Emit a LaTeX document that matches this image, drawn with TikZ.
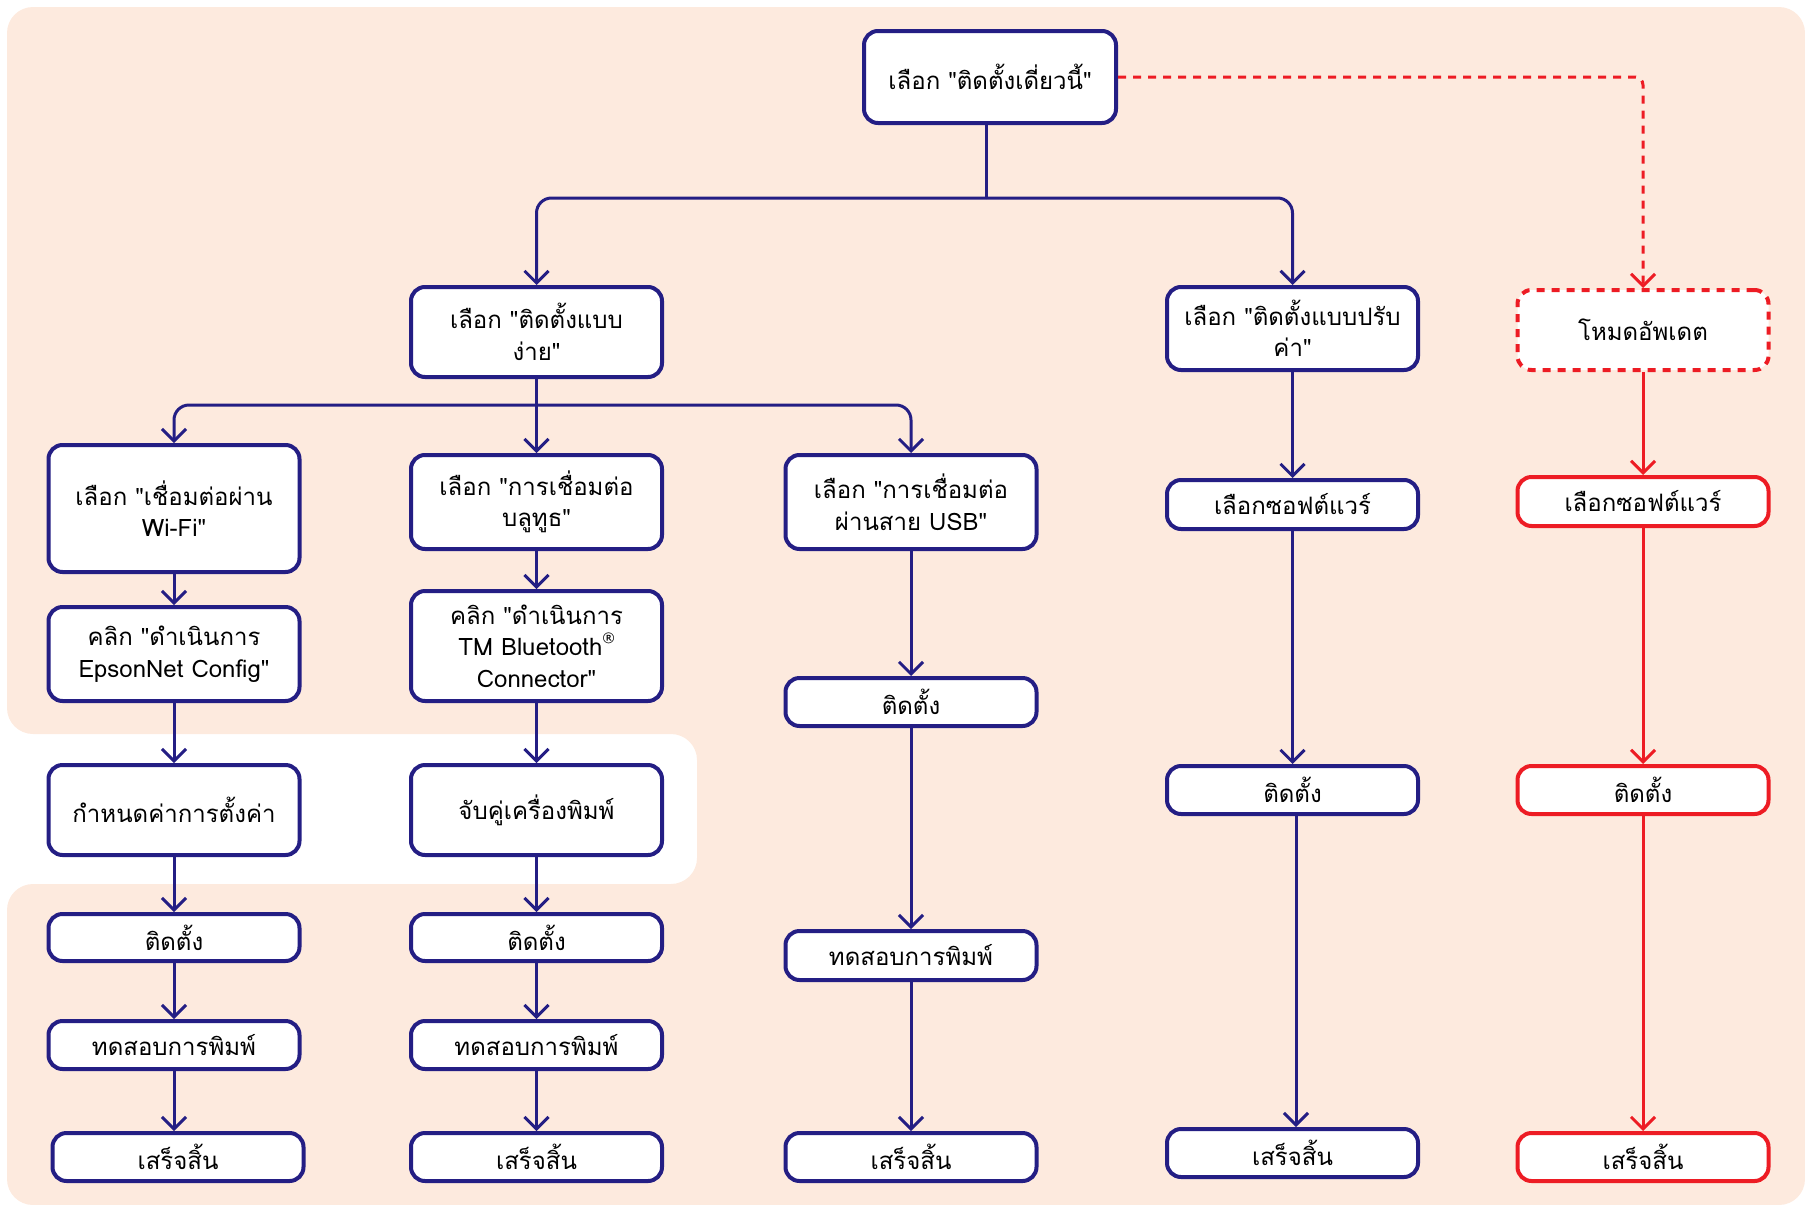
\documentclass[tikz,border=0pt]{standalone}
\usepackage{fontspec}
\newfontfamily\thaifont[Script=Thai]{Loma}
\usetikzlibrary{arrows.meta}
\definecolor{navy}{RGB}{36,30,132}
\definecolor{redc}{RGB}{237,28,36}
\definecolor{peach}{RGB}{253,234,222}
\tikzset{
  box/.style={draw=navy, line width=4pt, fill=white, rounded corners=14pt, align=center,
    inner sep=0pt, minimum width=251pt, font=\thaifont\fontsize{24}{31.5}\selectfont},
  rbox/.style={box, draw=redc},
  arr/.style={draw=navy, line width=3pt, -{Straight Barb[length=12pt,width=24pt]}},
  rarr/.style={arr, draw=redc},
  link/.style={draw=navy, line width=3pt},
}
\newcommand{\regmark}{\raisebox{0.55em}{\fontsize{13}{13}\selectfont ®}}
\begin{document}
\begin{tikzpicture}[x=1pt,y=-1pt]
\useasboundingbox (0,0) rectangle (1805,1205);
\fill[peach, rounded corners=26pt] (7,7) -- (7,734) -- (697,734) -- (697,884) -- (7,884) -- (7,1205) -- (1805,1205) -- (1805,7) -- cycle;

% nodes
\node[box, minimum width=252pt, minimum height=92pt] (top) at (990,77) {เลือก "ติดตั้งเดี่ยวนี้"};
\node[box, minimum height=90pt] (easy) at (536.5,332) {เลือก "ติดตั้งแบบ\\ง่าย"};
\node[box, minimum height=83pt] (custom) at (1292.5,328.5) {เลือก "ติดตั้งแบบปรับ\\ค่า"};
\node[rbox, dash pattern=on 8pt off 7pt, minimum height=80pt] (update) at (1643,330) {โหมดอัพเดต};

\node[box, minimum height=127pt] (wifi) at (174,508.5) {เลือก "เชื่อมต่อผ่าน\\Wi-Fi"};
\node[box, minimum height=94pt] (bt) at (536.5,502) {เลือก "การเชื่อมต่อ\\บลูทูธ"};
\node[box, minimum height=94pt] (usb) at (911,502) {เลือก "การเชื่อมต่อ\\ผ่านสาย USB"};
\node[box, minimum height=49pt] (soft4) at (1292.5,504.5) {เลือกซอฟต์แวร์};
\node[rbox, minimum height=49pt] (soft5) at (1643,501.5) {เลือกซอฟต์แวร์};

\node[box, minimum height=94pt] (wclick) at (174,654) {คลิก "ดำเนินการ\\EpsonNet Config"};
\node[box, minimum height=110pt] (bclick) at (536.5,646) {คลิก "ดำเนินการ\\TM Bluetooth\regmark\\Connector"};
\node[box, minimum height=48pt] (uinst) at (911,702) {ติดตั้ง};

\node[box, minimum height=90pt] (conf) at (174,810) {กำหนดค่าการตั้งค่า};
\node[box, minimum height=90pt] (pair) at (536.5,810) {จับคู่เครื่องพิมพ์};
\node[box, minimum height=48pt] (inst4) at (1292.5,790) {ติดตั้ง};
\node[rbox, minimum height=48pt] (inst5) at (1643,790) {ติดตั้ง};

\node[box, minimum height=47pt] (inst1) at (174,937.5) {ติดตั้ง};
\node[box, minimum height=47pt] (inst2) at (536.5,937.5) {ติดตั้ง};
\node[box, minimum height=49pt] (utest) at (911,955.5) {ทดสอบการพิมพ์};

\node[box, minimum height=48pt] (test1) at (174,1045) {ทดสอบการพิมพ์};
\node[box, minimum height=48pt] (test2) at (536.5,1045) {ทดสอบการพิมพ์};

\node[box, minimum height=48pt] (done1) at (178,1157) {เสร็จสิ้น};
\node[box, minimum height=48pt] (done2) at (536.5,1157) {เสร็จสิ้น};
\node[box, minimum height=48pt] (udone) at (911,1157) {เสร็จสิ้น};
\node[box, minimum height=48pt] (done4) at (1292.5,1153) {เสร็จสิ้น};
\node[rbox, minimum height=48pt] (done5) at (1643,1157) {เสร็จสิ้น};

% junctions
\coordinate (j1) at (986,198);
\coordinate (j2) at (536.5,405);

\draw[link] (top.south -| j1) -- (j1);
\draw[arr, rounded corners=15pt] (j1) -| (easy.north);
\draw[arr, rounded corners=15pt] (j1) -| (custom.north);
\draw[rarr, dash pattern=on 8pt off 7pt, rounded corners=8pt] (top.east) -| (update.north);

\draw[link] (easy.south) -- (j2);
\draw[arr, rounded corners=15pt] (j2) -| (wifi.north);
\draw[arr] (j2) -- (bt.north);
\draw[arr, rounded corners=15pt] (j2) -| (usb.north);

\draw[arr] (wifi) -- (wclick);
\draw[arr] (wclick) -- (conf);
\draw[arr] (conf) -- (inst1);
\draw[arr] (inst1) -- (test1);
\draw[arr] (test1.south) -- (test1.south |- done1.north);

\draw[arr] (bt) -- (bclick);
\draw[arr] (bclick) -- (pair);
\draw[arr] (pair) -- (inst2);
\draw[arr] (inst2) -- (test2);
\draw[arr] (test2) -- (done2);

\draw[arr] (usb) -- (uinst);
\draw[arr] (uinst) -- (utest);
\draw[arr] (utest) -- (udone);

\draw[arr] (custom) -- (soft4);
\draw[arr] (soft4) -- (inst4);
\draw[arr] ([xshift=3.5pt]inst4.south) -- ([xshift=3.5pt]done4.north);

\draw[rarr] (update) -- (soft5);
\draw[rarr] (soft5) -- (inst5);
\draw[rarr] (inst5) -- (done5);
\end{tikzpicture}
\end{document}
